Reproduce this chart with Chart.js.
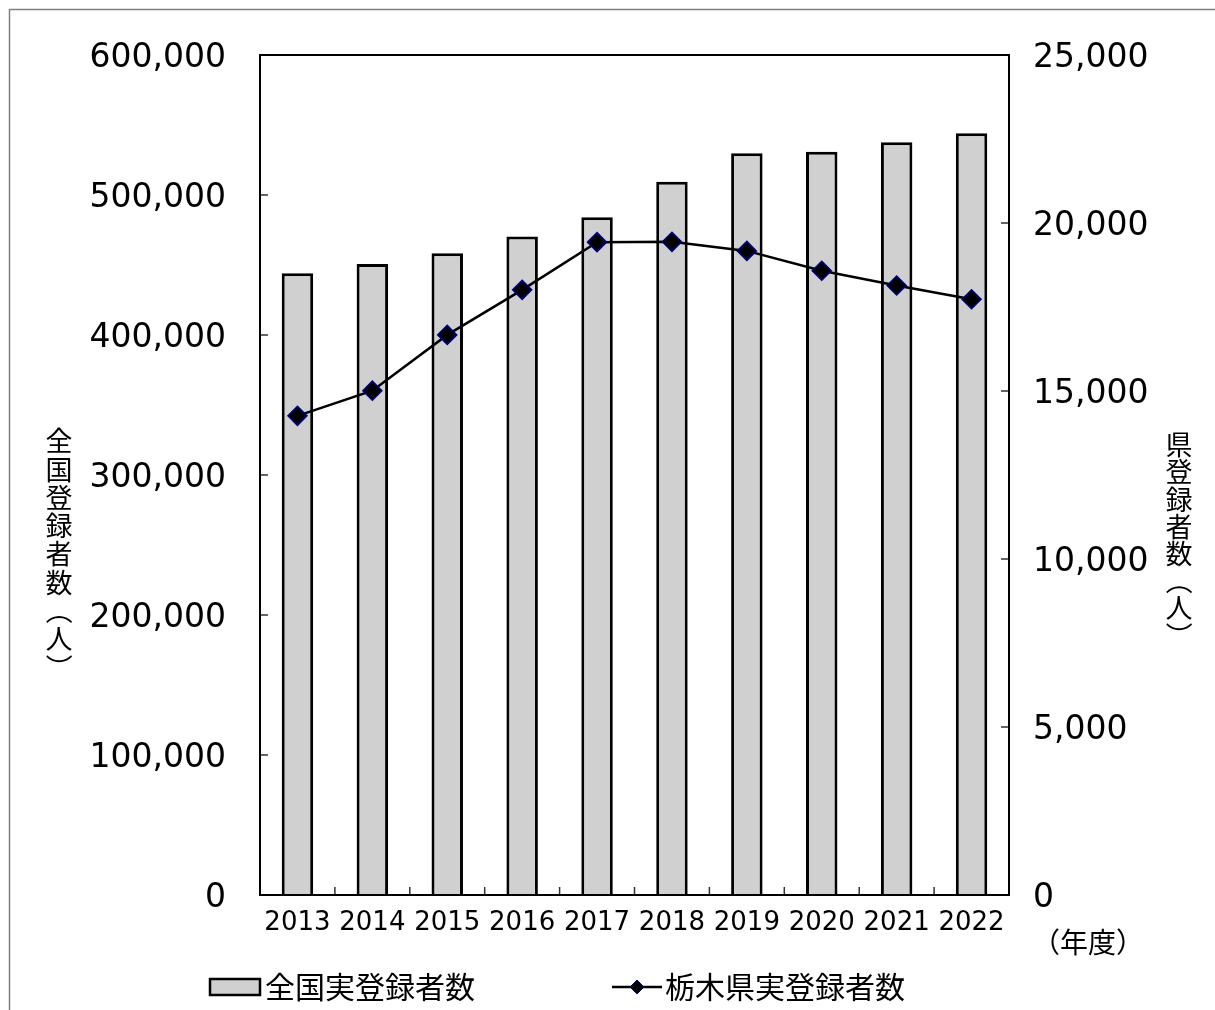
<!DOCTYPE html>
<html lang="ja">
<head>
<meta charset="utf-8">
<title>登録者数の推移</title>
<script src="https://cdn.jsdelivr.net/npm/chart.js@4.4.1/dist/chart.umd.min.js"></script>
<style>
  html, body { margin: 0; padding: 0; background: #fff; }
  #wrap { width: 1215px; height: 1010px; }
</style>
</head>
<body>
<div id="wrap"><canvas id="registrantChart" width="1215" height="1010"></canvas></div>
<script>
// values
const years = ['2013', '2014', '2015', '2016', '2017', '2018', '2019', '2020', '2021', '2022'];
const nationalCounts = [444100, 450700, 458400, 470400, 484100, 509500, 529800, 530900, 537600, 544100];
const tochigiCounts = [14260, 15010, 16670, 18010, 19430, 19440, 19170, 18580, 18140, 17730];

// axis ranges
const nationalMax = 600000;
const nationalStep = 100000;
const tochigiMax = 25000;
const tochigiStep = 5000;

// texts
const seriesNames = ['全国実登録者数', '栃木県実登録者数'];
const leftTitle = '全国登録者数（人）';
const rightTitle = '県登録者数（人）';
const yearUnit = '（年度）';

const barFill = '#d0d0d0';
const jpFont = "'Noto Sans CJK JP', sans-serif";

Chart.defaults.font.family = "'DejaVu Sans', sans-serif";
Chart.defaults.color = '#000';

// draw one string top-to-bottom, turning the brackets like vertical writing does
function drawVertical(ctx, text, x, y, step) {
    [...text].forEach((ch, i) => {
        const cy = y + i * step;
        ctx.save();
        ctx.translate(x, cy);
        if (ch === '（' || ch === '）') ctx.rotate(Math.PI / 2);
        ctx.fillText(ch, 0, 0);
        ctx.restore();
    });
}

// frame, inward tick marks, axis titles and legend
const decorations = {
    id: 'decorations',
    afterDraw(chart) {
        const { ctx, chartArea: a, scales } = chart;
        ctx.save();

        // thin border of the original picture (top and left only)
        ctx.strokeStyle = '#7f7f7f';
        ctx.lineWidth = 1.5;
        ctx.beginPath();
        ctx.moveTo(9.5, chart.height);
        ctx.lineTo(9.5, 9.5);
        ctx.lineTo(chart.width, 9.5);
        ctx.stroke();

        // tick marks pointing into the plot
        ctx.strokeStyle = '#333';
        ctx.lineWidth = 1.5;
        ctx.beginPath();
        scales.y.ticks.forEach(t => {
            const py = scales.y.getPixelForValue(t.value);
            ctx.moveTo(a.left, py);
            ctx.lineTo(a.left + 8, py);
        });
        scales.y1.ticks.forEach(t => {
            const py = scales.y1.getPixelForValue(t.value);
            ctx.moveTo(a.right, py);
            ctx.lineTo(a.right - 8, py);
        });
        const half = (scales.x.getPixelForValue(1) - scales.x.getPixelForValue(0)) / 2;
        for (let i = 0; i <= years.length; i++) {
            const px = scales.x.getPixelForValue(i) - half;
            ctx.moveTo(px, a.bottom);
            ctx.lineTo(px, a.bottom - 8);
        }
        ctx.stroke();

        // plot frame
        ctx.strokeStyle = '#000';
        ctx.lineWidth = 2;
        ctx.strokeRect(a.left, a.top, a.right - a.left, a.bottom - a.top);

        // axis titles
        ctx.fillStyle = '#000';
        ctx.textAlign = 'center';
        ctx.textBaseline = 'middle';
        ctx.font = '27px ' + jpFont;
        drawVertical(ctx, leftTitle, 59, 441, 28.3);
        drawVertical(ctx, rightTitle, 1179, 445, 27.2);
        ctx.font = '28px ' + jpFont;
        ctx.fillText(yearUnit, 1088, 942);

        // legend
        const ly = 987;
        const bars = chart.data.datasets[0];
        const line = chart.data.datasets[1];
        ctx.fillStyle = bars.backgroundColor;
        ctx.fillRect(210, ly - 8, 50, 16);
        ctx.strokeStyle = bars.borderColor;
        ctx.lineWidth = 2.5;
        ctx.strokeRect(210, ly - 8, 50, 16);

        ctx.strokeStyle = line.borderColor;
        ctx.lineWidth = 2.5;
        ctx.beginPath();
        ctx.moveTo(612, ly);
        ctx.lineTo(662, ly);
        ctx.stroke();
        ctx.fillStyle = line.pointBackgroundColor;
        ctx.strokeStyle = line.pointBorderColor;
        ctx.lineWidth = 1;
        Chart.helpers.drawPoint(ctx, { pointStyle: 'rectRot', rotation: 0, radius: 7, borderWidth: 1 }, 637, ly);

        ctx.fillStyle = '#000';
        ctx.textAlign = 'left';
        ctx.font = '30px ' + jpFont;
        ctx.fillText(bars.label, 265, ly);
        ctx.fillText(line.label, 665, ly);

        ctx.restore();
    }
};

const ctx = document.getElementById('registrantChart');

new Chart(ctx, {
    data: {
        labels: years,
        datasets: [
            {
                type: 'bar',
                label: seriesNames[0],
                data: nationalCounts,
                yAxisID: 'y',
                backgroundColor: barFill,
                borderColor: '#000',
                borderWidth: 3,
                barPercentage: 0.42,
                categoryPercentage: 1,
                order: 2
            },
            {
                type: 'line',
                label: seriesNames[1],
                data: tochigiCounts,
                yAxisID: 'y1',
                borderColor: '#000',
                borderWidth: 2.5,
                tension: 0,
                pointStyle: 'rectRot',
                pointRadius: 9.5,
                pointBackgroundColor: '#000',
                pointBorderColor: '#000080',
                pointBorderWidth: 1.5,
                order: 1
            }
        ]
    },
    options: {
        responsive: false,
        animation: false,
        devicePixelRatio: 1,
        layout: {
            padding: { top: 55, right: 0, bottom: 0, left: 0 }
        },
        plugins: {
            legend: { display: false },
            tooltip: { enabled: false }
        },
        scales: {
            x: {
                type: 'category',
                offset: true,
                grid: { display: false },
                border: { display: false },
                ticks: {
                    font: { size: 26 },
                    padding: 5,
                    maxRotation: 0,
                    autoSkip: false
                },
                afterFit(scale) { scale.height = 115; }
            },
            y: {
                position: 'left',
                min: 0,
                max: nationalMax,
                grid: { display: false },
                border: { display: false },
                ticks: {
                    stepSize: nationalStep,
                    font: { size: 33 },
                    padding: 26,
                    labelOffset: 3,
                    callback: v => v.toLocaleString('en-US')
                },
                afterFit(scale) { scale.width = 260; }
            },
            y1: {
                position: 'right',
                min: 0,
                max: tochigiMax,
                grid: { display: false },
                border: { display: false },
                ticks: {
                    stepSize: tochigiStep,
                    font: { size: 33 },
                    padding: 16,
                    labelOffset: 3,
                    callback: v => v.toLocaleString('en-US')
                },
                afterFit(scale) { scale.width = 206; }
            }
        }
    },
    plugins: [decorations]
});
</script>
</body>
</html>
